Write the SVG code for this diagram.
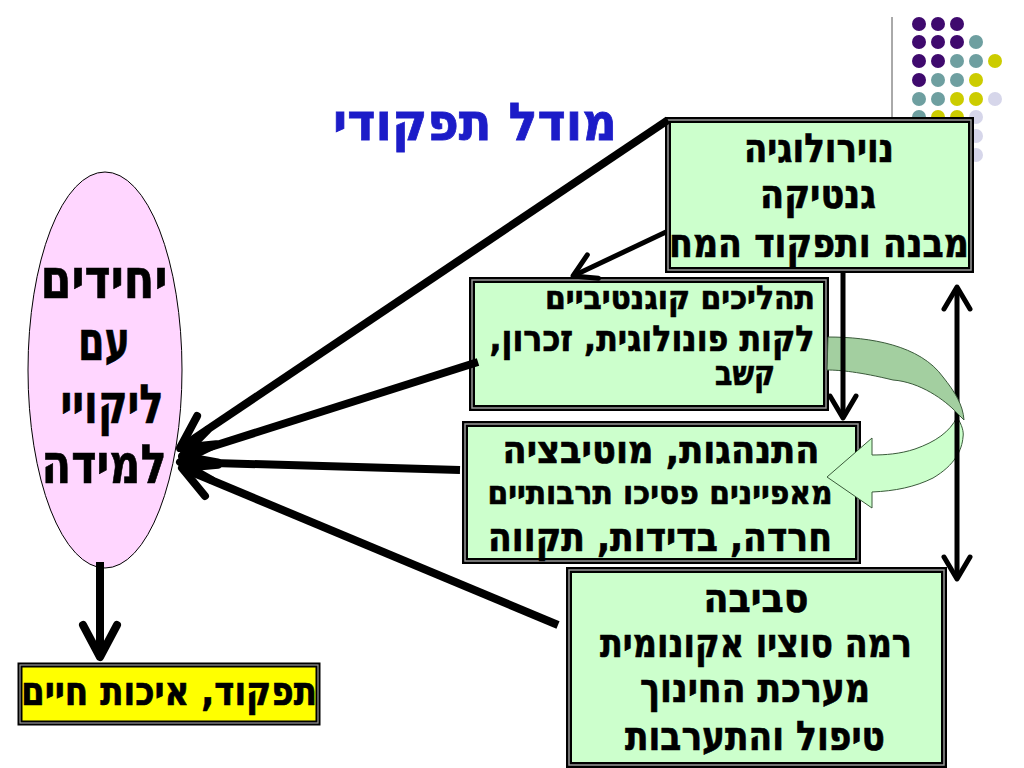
<svg xmlns="http://www.w3.org/2000/svg" width="1024" height="768" viewBox="0 0 1024 768">
<defs>
<style>
.t{font-family:"DejaVu Sans","Liberation Sans",sans-serif;font-weight:bold;fill:#000;stroke:#000;stroke-width:0.7;direction:rtl;text-anchor:middle}
.box{fill:#ccffcc;stroke:#000;stroke-width:6}
.inner{fill:none;stroke:#999;stroke-width:1.5}
.ln{stroke:#000;stroke-width:8;fill:none}
.ln2{stroke:#000;stroke-width:5;fill:none}
.pu{fill:#3f0a6e}.te{fill:#6e9fa0}.ye{fill:#cccc00}.la{fill:#d6d6ea}
</style>
<marker id="ah" markerUnits="userSpaceOnUse" markerWidth="60" markerHeight="60" refX="0" refY="0" orient="auto" overflow="visible">
<path d="M-32,-17 L0,0 L-32,17" fill="none" stroke="#000" stroke-width="8" stroke-linecap="round" stroke-linejoin="round"/>
</marker>
<marker id="ah2" markerUnits="userSpaceOnUse" markerWidth="60" markerHeight="60" refX="0" refY="0" orient="auto-start-reverse" overflow="visible">
<path d="M-22,-13 L0,0 L-22,13" fill="none" stroke="#000" stroke-width="5" stroke-linecap="round" stroke-linejoin="round"/>
</marker>
</defs>
<rect width="1024" height="768" fill="#fff"/>

<g id="decor">
<line x1="892" y1="17" x2="892" y2="118" stroke="#555" stroke-width="1"/>
<circle class="pu" cx="919" cy="24" r="7"/><circle class="pu" cx="938" cy="24" r="7"/><circle class="pu" cx="957" cy="24" r="7"/>
<circle class="pu" cx="919" cy="42" r="7"/><circle class="pu" cx="938" cy="42" r="7"/><circle class="pu" cx="957" cy="42" r="7"/><circle class="te" cx="976" cy="42" r="7"/>
<circle class="pu" cx="919" cy="61" r="7"/><circle class="pu" cx="938" cy="61" r="7"/><circle class="te" cx="957" cy="61" r="7"/><circle class="te" cx="976" cy="61" r="7"/><circle class="ye" cx="995" cy="61" r="7"/>
<circle class="pu" cx="919" cy="80" r="7"/><circle class="te" cx="938" cy="80" r="7"/><circle class="te" cx="957" cy="80" r="7"/><circle class="ye" cx="976" cy="80" r="7"/>
<circle class="te" cx="919" cy="99" r="7"/><circle class="te" cx="938" cy="99" r="7"/><circle class="ye" cx="957" cy="99" r="7"/><circle class="ye" cx="976" cy="99" r="7"/><circle class="la" cx="995" cy="99" r="7"/>
<circle class="te" cx="919" cy="117" r="7"/><circle class="ye" cx="938" cy="117" r="7"/><circle class="ye" cx="957" cy="117" r="7"/><circle class="la" cx="976" cy="117" r="7"/>
<circle class="ye" cx="938" cy="136" r="7"/><circle class="la" cx="957" cy="136" r="7"/><circle class="la" cx="976" cy="136" r="7"/>
<circle class="la" cx="976" cy="155" r="7"/>
</g>

<g id="title">
<text x="475" y="140" font-family="DejaVu Sans, Liberation Sans, sans-serif" font-weight="bold" font-size="52" fill="#1c1cc8" stroke="#1c1cc8" stroke-width="0.8" text-anchor="middle" direction="rtl" textLength="284" lengthAdjust="spacingAndGlyphs">מודל תפקודי</text>
</g>

<g id="node-individuals">
<ellipse cx="105" cy="370" rx="77" ry="198" fill="#ffd6ff" stroke="#000" stroke-width="1"/>
<text class="t" x="104" y="298" font-size="54" textLength="127" lengthAdjust="spacingAndGlyphs">יחידים</text>
<text class="t" x="104" y="360" font-size="54" textLength="52" lengthAdjust="spacingAndGlyphs">עם</text>
<text class="t" x="112" y="423" font-size="54" textLength="103" lengthAdjust="spacingAndGlyphs">ליקויי</text>
<text class="t" x="104" y="483" font-size="54" textLength="125" lengthAdjust="spacingAndGlyphs">למידה</text>
</g>

<g id="node-neuro">
<rect class="box" x="668" y="120" width="303" height="150"/>
<rect class="inner" x="668" y="120" width="303" height="150"/>
<text class="t" x="819" y="162" font-size="40" textLength="150" lengthAdjust="spacingAndGlyphs">נוירולוגיה</text>
<text class="t" x="818" y="208" font-size="40" textLength="116" lengthAdjust="spacingAndGlyphs">גנטיקה</text>
<text class="t" x="819" y="257" font-size="40" textLength="300" lengthAdjust="spacingAndGlyphs">מבנה ותפקוד המח</text>
</g>

<g id="node-cognitive">
<rect class="box" x="472" y="280" width="354" height="128"/>
<rect class="inner" x="472" y="280" width="354" height="128"/>
<text class="t" x="680" y="309" font-size="33" textLength="270" lengthAdjust="spacingAndGlyphs">תהליכים קוגנטיביים</text>
<text class="t" x="652" y="351" font-size="36" textLength="325" lengthAdjust="spacingAndGlyphs">לקות פונולוגית, זכרון,</text>
<text class="t" x="745" y="385" font-size="34" textLength="60" lengthAdjust="spacingAndGlyphs">קשב</text>
</g>

<g id="node-behavior">
<rect class="box" x="465" y="424" width="393" height="137"/>
<rect class="inner" x="465" y="424" width="393" height="137"/>
<text class="t" x="661" y="463" font-size="39" textLength="317" lengthAdjust="spacingAndGlyphs">התנהגות, מוטיבציה</text>
<text class="t" x="660" y="504" font-size="33" textLength="345" lengthAdjust="spacingAndGlyphs">מאפיינים פסיכו תרבותיים</text>
<text class="t" x="660" y="551" font-size="41" textLength="344" lengthAdjust="spacingAndGlyphs">חרדה, בדידות, תקווה</text>
</g>

<g id="node-environment">
<rect class="box" x="569" y="570" width="375" height="195"/>
<rect class="inner" x="569" y="570" width="375" height="195"/>
<text class="t" x="756" y="612" font-size="40" textLength="105" lengthAdjust="spacingAndGlyphs">סביבה</text>
<text class="t" x="756" y="657" font-size="41" textLength="312" lengthAdjust="spacingAndGlyphs">רמה סוציו אקונומית</text>
<text class="t" x="755" y="702" font-size="41" textLength="230" lengthAdjust="spacingAndGlyphs">מערכת החינוך</text>
<text class="t" x="755" y="750" font-size="41" textLength="260" lengthAdjust="spacingAndGlyphs">טיפול והתערבות</text>
</g>

<g id="node-outcome">
<rect x="20" y="665" width="298" height="58" fill="#ffff00" stroke="#000" stroke-width="5"/>
<rect x="20" y="665" width="298" height="58" fill="none" stroke="#999" stroke-width="1.2"/>
<text class="t" x="169" y="705" font-size="40" textLength="296" lengthAdjust="spacingAndGlyphs">תפקוד, איכות חיים</text>
</g>

<g id="connectors">
<path id="curved-arrow-front" d="M957,417 C962,425 964,432 963,437 C962,450 955,465 933,478 C915,487 895,491 872,492 L872,508 L827,477 L872,438 L872,455 C885,455 900,454 915,449 C935,442 950,432 957,417 Z" fill="#ccffcc" stroke="#3a5a3a" stroke-width="1"/>
<line class="ln2" x1="957" y1="287" x2="957" y2="579" marker-start="url(#ah2)" marker-end="url(#ah2)"/>
<path id="curved-arrow-back" d="M828,337 C870,337 920,345 943,377 C955,392 963,405 964,420 L957,413 C945,400 920,382 893,380 C860,372 840,370 827,370 Z" fill="#a3cfa0" stroke="#3a5a3a" stroke-width="1"/>
<line class="ln" x1="668" y1="120" x2="180" y2="448" marker-end="url(#ah)"/>
<line class="ln" x1="478" y1="362" x2="182" y2="456" marker-end="url(#ah)"/>
<line class="ln" x1="460" y1="470" x2="180" y2="462" marker-end="url(#ah)"/>
<line class="ln" x1="558" y1="625" x2="182" y2="468" marker-end="url(#ah)"/>
<line class="ln2" x1="666" y1="232" x2="573" y2="276" marker-end="url(#ah2)"/>
<line class="ln2" x1="843" y1="272" x2="843" y2="418" marker-end="url(#ah2)"/>
<line class="ln" x1="100" y1="562" x2="100" y2="657" marker-end="url(#ah)"/>
</g>
</svg>
